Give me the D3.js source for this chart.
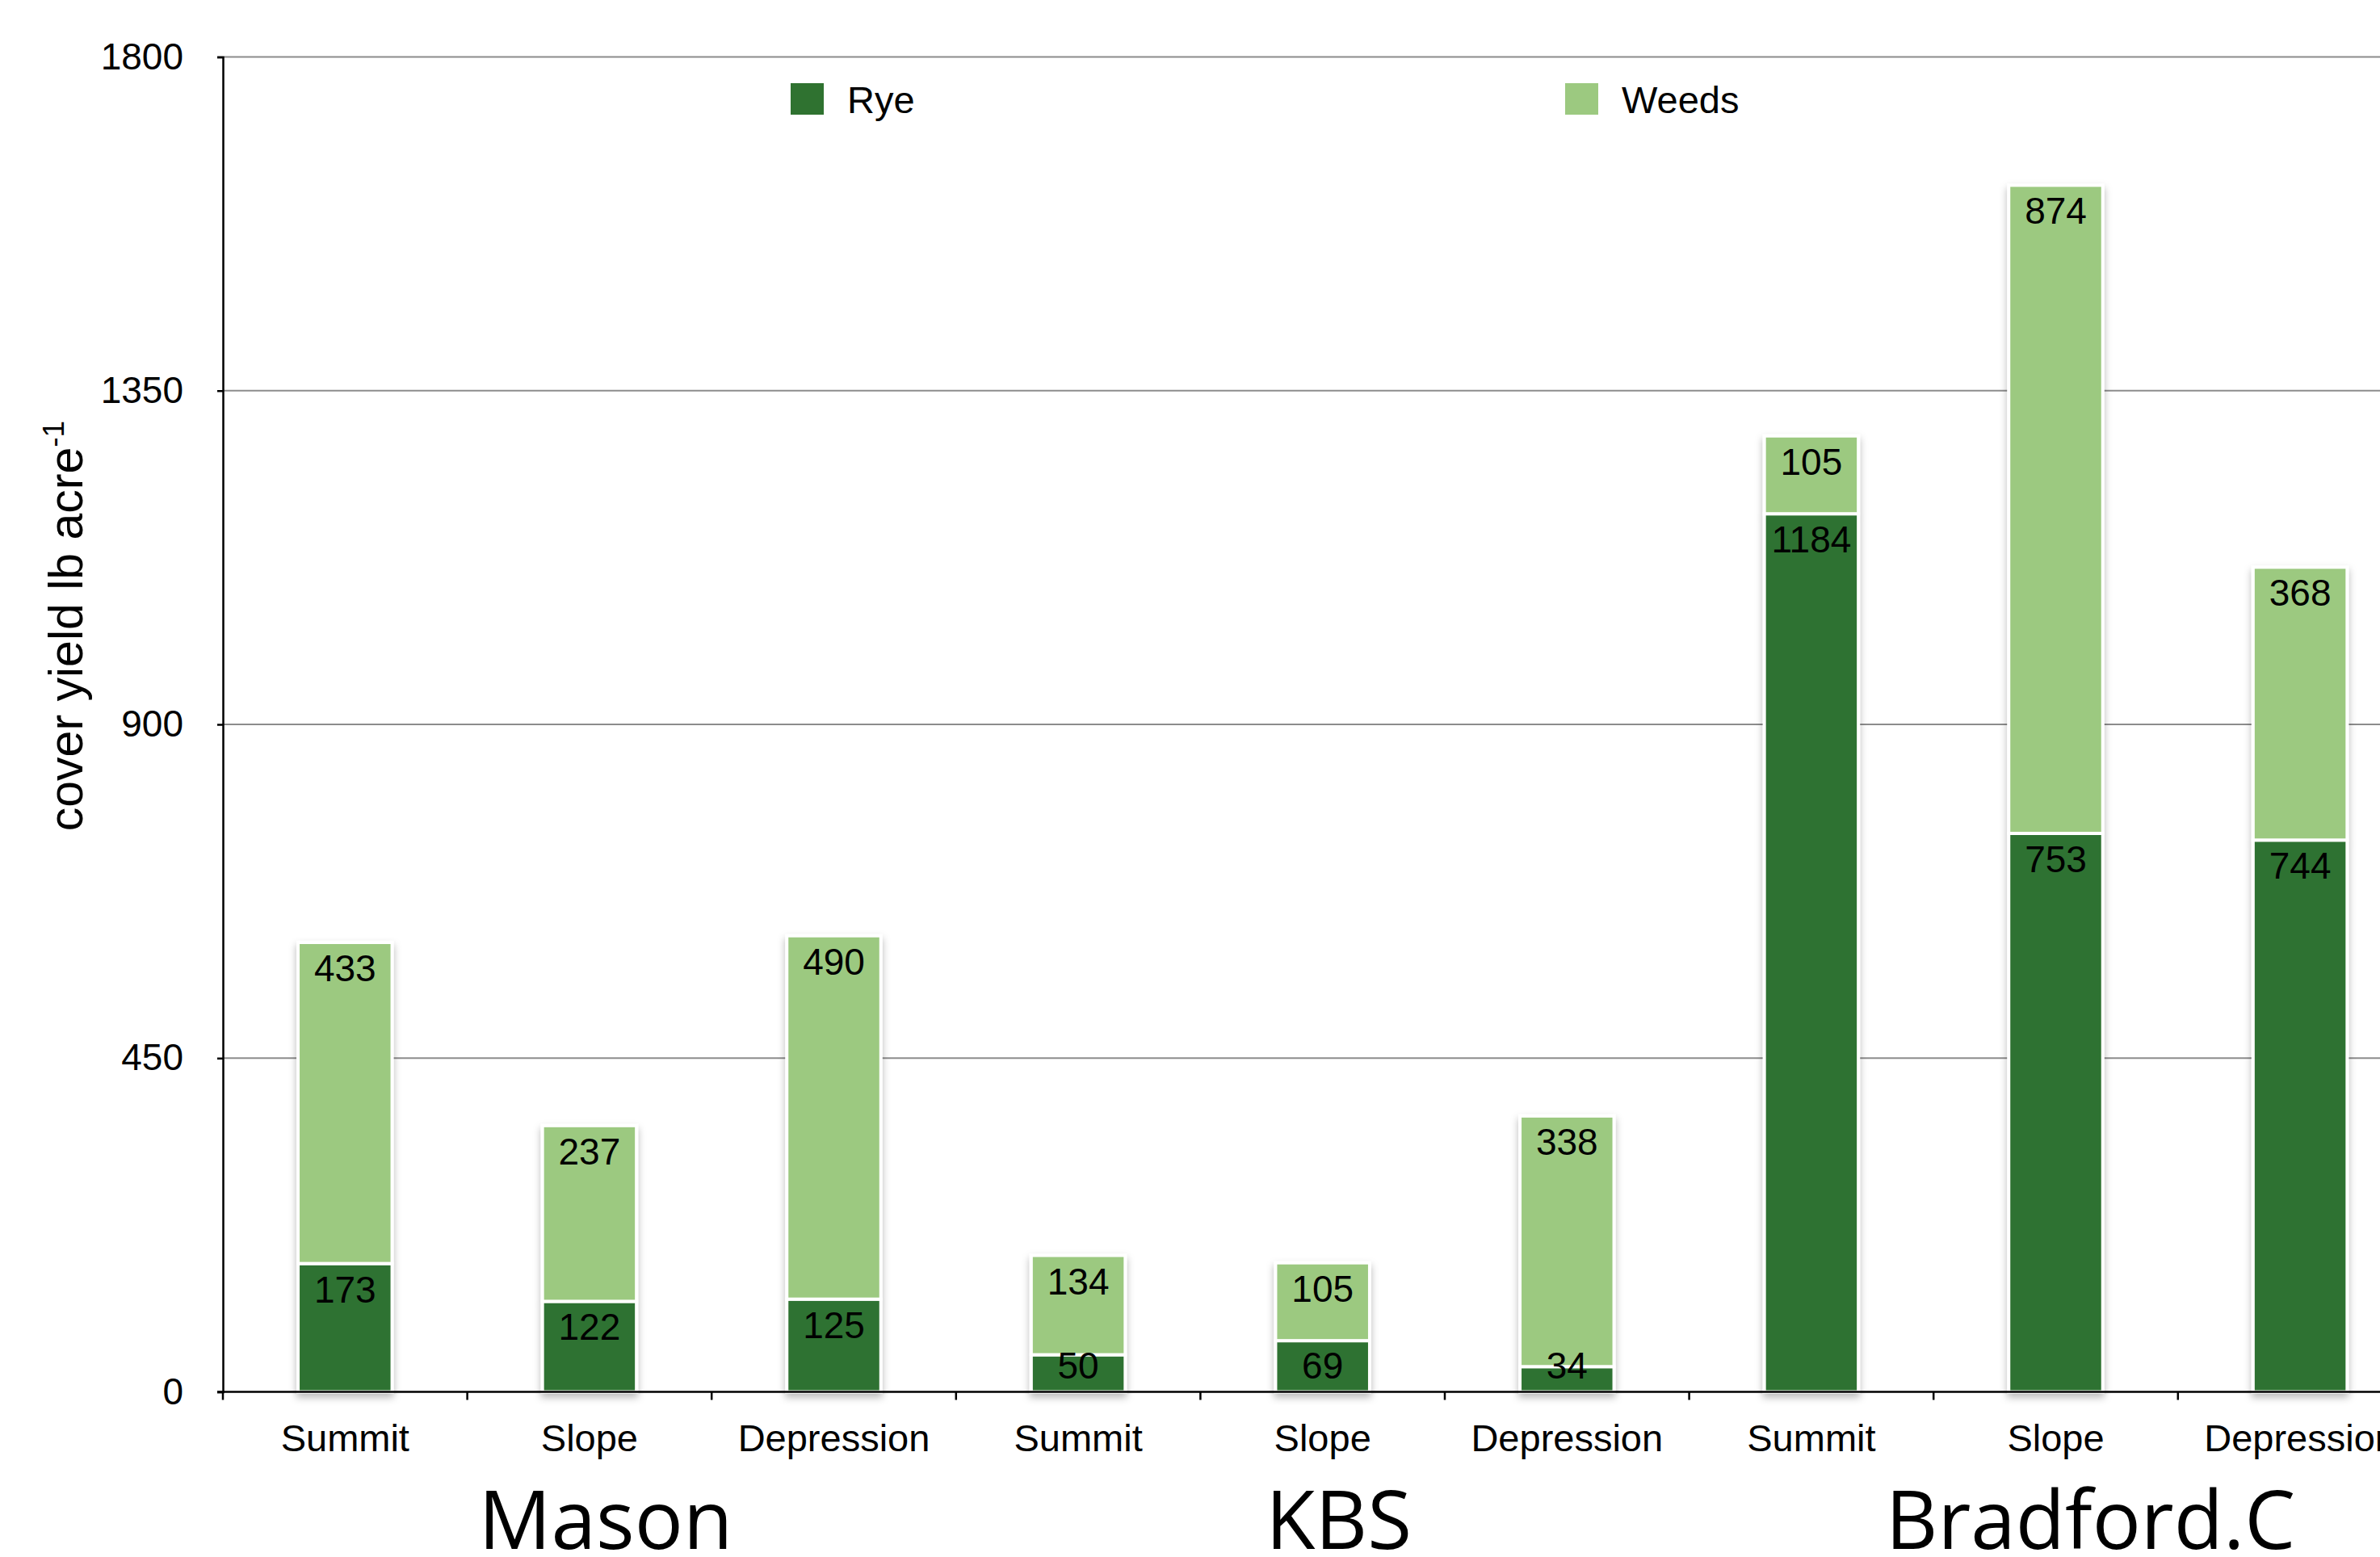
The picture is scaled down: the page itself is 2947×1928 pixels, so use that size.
<!DOCTYPE html>
<html>
<head>
<meta charset="utf-8">
<script src="https://cdn.jsdelivr.net/npm/d3@7"></script>
<style>
  html, body { margin: 0; padding: 0; background: #ffffff; }
  svg { display: block; }
</style>
</head>
<body>
<svg id="chart" width="2947" height="1928"></svg>
<script>
// Cover yield by landscape position, stacked rye + weeds, three sites
const categories = ["Summit", "Slope", "Depression", "Summit", "Slope", "Depression", "Summit", "Slope", "Depression"];
const sites = ["Mason", "KBS", "Bradford.C"];
const ryeValues = [173, 122, 125, 50, 69, 34, 1184, 753, 744];
const weedValues = [433, 237, 490, 134, 105, 338, 105, 874, 368];
const seriesNames = ["Rye", "Weeds"];
const seriesColors = ["#2f7230", "#9cc980"];
const yTicks = [0, 450, 900, 1350, 1800];
const yTitle = "cover yield lb acre";
const yTitleSup = "-1";

const W = 2947, H = 1928;
const plotLeft = 276, plotTop = 70.5, plotBottom = 1723.5;
const step = 302.6;
const plotRight = plotLeft + categories.length * step;

const svg = d3.select("#chart");
const sansFont = "'Liberation Sans', Arial, sans-serif";
const siteFont = "'Open Sans', Carlito, Lato, sans-serif";

const idx = d3.range(categories.length);
const x = d3.scaleBand().domain(idx).range([plotLeft, plotRight])
  .paddingInner(0.615).paddingOuter(0.3075);
const xCat = d3.scaleBand().domain(idx).range([plotLeft, plotRight]).padding(0);
const y = d3.scaleLinear().domain([0, 1800]).range([plotBottom, plotTop]);

// drop shadow under each bar
const defs = svg.append("defs");
const f = defs.append("filter").attr("id", "barShadow")
  .attr("x", "-20%").attr("y", "-5%").attr("width", "140%").attr("height", "115%");
f.append("feDropShadow").attr("dx", 0).attr("dy", 5).attr("stdDeviation", 5)
  .attr("flood-color", "#000").attr("flood-opacity", 0.28);

// horizontal gridlines
svg.append("g").selectAll("line")
  .data(yTicks.filter(v => v > 0))
  .join("line")
  .attr("x1", plotLeft).attr("x2", W)
  .attr("y1", d => y(d)).attr("y2", d => y(d))
  .attr("stroke", "#8c8c8c").attr("stroke-width", 2);

// stacked data
const rows = idx.map(i => ({ i, Rye: ryeValues[i], Weeds: weedValues[i] }));
const stack = d3.stack().keys(seriesNames)(rows);

const barG = svg.append("g");
const bars = barG.selectAll("g.bar").data(rows).join("g")
  .attr("class", "bar").attr("filter", "url(#barShadow)");
bars.selectAll("rect")
  .data(r => stack.map((s, k) => ({ k, lo: s[r.i][0], hi: s[r.i][1], i: r.i })))
  .join("rect")
  .attr("x", d => x(d.i))
  .attr("width", x.bandwidth())
  .attr("y", d => y(d.hi))
  .attr("height", d => y(d.lo) - y(d.hi))
  .attr("fill", d => seriesColors[d.k])
  .attr("stroke", "#ffffff").attr("stroke-width", 4);

// value labels at the inside top of each segment
const labelSize = 46;
const segs = [];
stack.forEach((s, k) => s.forEach((p, i) => segs.push({ k, i, lo: p[0], hi: p[1], v: p[1] - p[0] })));
svg.append("g").selectAll("text")
  .data(segs)
  .join("text")
  .attr("x", d => x(d.i) + x.bandwidth() / 2)
  .attr("y", d => Math.min(y(d.hi) + 48, y(d.lo) - 17))
  .attr("text-anchor", "middle")
  .attr("font-family", sansFont).attr("font-size", labelSize)
  .attr("fill", "#000")
  .text(d => d.v);

// y axis
const yAxis = d3.axisLeft(y).tickValues(yTicks).tickSize(7).tickPadding(42).tickFormat(d3.format("d"));
const yg = svg.append("g").attr("transform", `translate(${plotLeft},0)`).call(yAxis);
yg.select(".domain").attr("stroke", "#000").attr("stroke-width", 2.5);
yg.selectAll(".tick line").attr("stroke", "#000").attr("stroke-width", 2.5);
yg.selectAll(".tick text").attr("font-family", sansFont).attr("font-size", 46).attr("fill", "#000");

// x axis line and category boundary ticks
svg.append("line")
  .attr("x1", plotLeft - 7).attr("x2", W)
  .attr("y1", y(0)).attr("y2", y(0))
  .attr("stroke", "#000").attr("stroke-width", 2.5);
svg.append("g").selectAll("line")
  .data(idx.concat([categories.length]))
  .join("line")
  .attr("x1", i => i < categories.length ? xCat(i) : plotRight)
  .attr("x2", i => i < categories.length ? xCat(i) : plotRight)
  .attr("y1", y(0)).attr("y2", y(0) + 10)
  .attr("stroke", "#000").attr("stroke-width", 2.5);

// category labels
svg.append("g").selectAll("text")
  .data(idx)
  .join("text")
  .attr("x", i => x(i) + x.bandwidth() / 2)
  .attr("y", 1797)
  .attr("text-anchor", "middle")
  .attr("font-family", sansFont).attr("font-size", 47).attr("fill", "#000")
  .text(i => categories[i]);

// site labels under each group of three
const siteShift = [20, 20, 43];
svg.append("g").selectAll("text")
  .data(sites)
  .join("text")
  .attr("x", (s, g) => xCat(g * 3 + 1) + xCat.bandwidth() / 2 + siteShift[g])
  .attr("y", 1918)
  .attr("text-anchor", "middle")
  .attr("font-family", siteFont).attr("font-size", 100).attr("fill", "#000")
  .text(s => s);

// y axis title
const yt = svg.append("text")
  .attr("transform", `translate(102,${(plotTop + plotBottom) / 2 - 122}) rotate(-90)`)
  .attr("text-anchor", "middle")
  .attr("font-family", sansFont).attr("font-size", 59).attr("fill", "#000");
yt.append("tspan").text(yTitle);
yt.append("tspan").attr("font-size", 37).attr("dy", -23).text(yTitleSup);

// legend
const legendX = [979, 1938];
const lg = svg.append("g").selectAll("g").data(seriesNames).join("g")
  .attr("transform", (d, k) => `translate(${legendX[k]},103)`);
lg.append("rect").attr("width", 41).attr("height", 39).attr("fill", (d, k) => seriesColors[k]);
lg.append("text").attr("x", 70).attr("y", 37)
  .attr("font-family", sansFont).attr("font-size", 47).attr("fill", "#000")
  .text(d => d);
</script>
</body>
</html>
